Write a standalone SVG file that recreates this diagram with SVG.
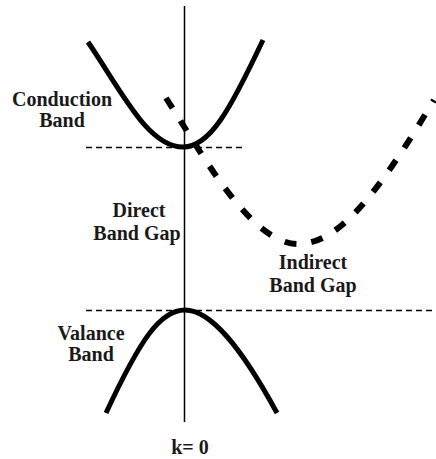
<svg xmlns="http://www.w3.org/2000/svg" width="436" height="459" viewBox="0 0 436 459">
<style>
.lbl{font-family:"Liberation Serif","Times New Roman",serif;font-weight:bold;font-size:20px;fill:#1a1a1a;text-anchor:middle}
.band{fill:none;stroke:#000;stroke-width:5;stroke-linecap:butt}
.level{fill:none;stroke:#000;stroke-width:1.5;stroke-dasharray:6 4}
.ind{fill:none;stroke:#000;stroke-width:6;stroke-dasharray:12 15}
</style>
<rect width="436" height="459" fill="#fff"/>
<g id="connectors">
<line id="axis" x1="184.5" y1="6" x2="184.5" y2="422" stroke="#000" stroke-width="1.5"/>
<line id="cb-level" class="level" x1="86" y1="147.5" x2="244" y2="147.5"/>
<line id="vb-level" class="level" x1="86" y1="310.5" x2="436" y2="310.5"/>
</g>
<g id="conduction-band"><path class="band" d="M88,42 C122,92 148,147 183,147 C210,147 230,110 263,40"/></g>
<g id="valence-band"><path class="band" d="M106,413 C140,340 160,310 185,310 C210,310 240,345 277,413"/></g>
<g id="indirect-band"><path class="ind" d="M166,98 C200,150 250,244 298,244 C340,244 380,190 434,100"/></g>
<g id="label-conduction"><text class="lbl" x="62" y="106">Conduction</text><text class="lbl" x="62" y="127">Band</text></g>
<g id="label-direct"><text class="lbl" x="139" y="217">Direct</text><text class="lbl" x="137" y="240">Band Gap</text></g>
<g id="label-indirect"><text class="lbl" x="313" y="269">Indirect</text><text class="lbl" x="313" y="292">Band Gap</text></g>
<g id="label-valence"><text class="lbl" x="91" y="340">Valance</text><text class="lbl" x="91" y="361">Band</text></g>
<g id="label-k"><text class="lbl" x="190" y="454">k= 0</text></g>
</svg>
